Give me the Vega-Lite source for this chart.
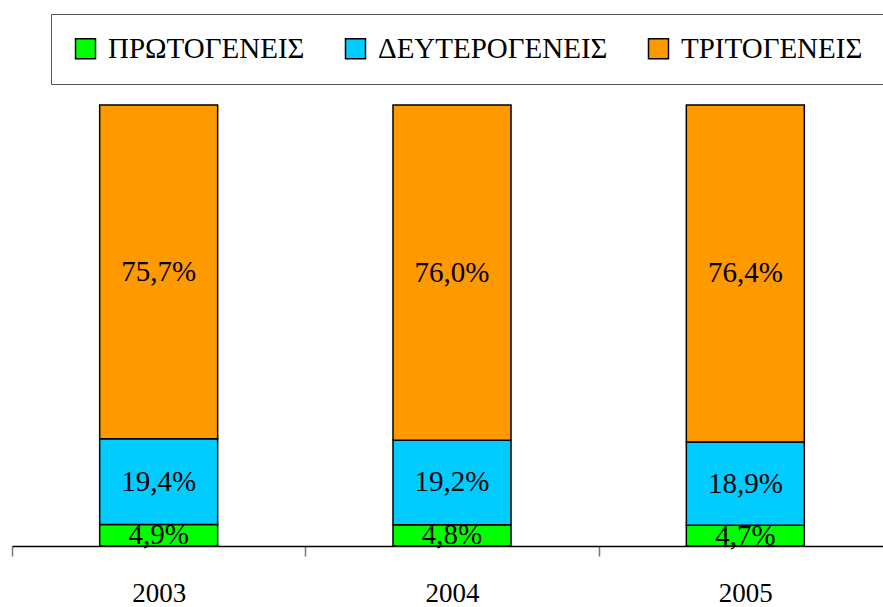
{
  "$schema": "https://vega.github.io/schema/vega-lite/v6.json",
  "autosize": {"type": "none"},
  "width": 871,
  "height": 441,
  "padding": {"left": 12, "top": 105, "right": 0, "bottom": 61},
  "background": "white",
  "config": {
    "view": {"stroke": null},
    "locale": {"number": {"decimal": ",", "thousands": ".", "grouping": [3], "currency": ["", " €"]}},
    "font": "Liberation Serif"
  },
  "data": {
    "values": [
      {"year": "2003", "sector": "ΠΡΩΤΟΓΕΝΕΙΣ", "k": 1, "share": 0.049},
      {"year": "2003", "sector": "ΔΕΥΤΕΡΟΓΕΝΕΙΣ", "k": 2, "share": 0.194},
      {"year": "2003", "sector": "ΤΡΙΤΟΓΕΝΕΙΣ", "k": 3, "share": 0.757},
      {"year": "2004", "sector": "ΠΡΩΤΟΓΕΝΕΙΣ", "k": 1, "share": 0.048},
      {"year": "2004", "sector": "ΔΕΥΤΕΡΟΓΕΝΕΙΣ", "k": 2, "share": 0.192},
      {"year": "2004", "sector": "ΤΡΙΤΟΓΕΝΕΙΣ", "k": 3, "share": 0.760},
      {"year": "2005", "sector": "ΠΡΩΤΟΓΕΝΕΙΣ", "k": 1, "share": 0.047},
      {"year": "2005", "sector": "ΔΕΥΤΕΡΟΓΕΝΕΙΣ", "k": 2, "share": 0.189},
      {"year": "2005", "sector": "ΤΡΙΤΟΓΕΝΕΙΣ", "k": 3, "share": 0.764}
    ]
  },
  "encoding": {
    "x": {
      "field": "year", "type": "nominal",
      "scale": {"paddingInner": 0, "paddingOuter": 0, "range": [0, 880]},
      "axis": {
        "title": null, "labelAngle": 0, "labelFont": "Liberation Serif", "labelFontSize": 27,
        "labelColor": "black", "domainColor": "black", "domainWidth": 1.5,
        "tickColor": "#777", "tickWidth": 1.5, "tickSize": 10, "tickBand": "extent",
        "labelPadding": 24
      }
    }
  },
  "layer": [
    {
      "mark": {"type": "bar", "size": 118, "stroke": "black", "strokeWidth": 1.5},
      "encoding": {
        "y": {"field": "share", "type": "quantitative", "stack": "zero", "scale": {"domain": [0, 1]}, "axis": null},
        "order": {"field": "k"},
        "color": {
          "field": "sector", "type": "nominal",
          "scale": {"domain": ["ΠΡΩΤΟΓΕΝΕΙΣ", "ΔΕΥΤΕΡΟΓΕΝΕΙΣ", "ΤΡΙΤΟΓΕΝΕΙΣ"], "range": ["#00FF00", "#00CCFF", "#FF9900"]},
          "legend": {
            "title": null, "orient": "none", "direction": "horizontal", "columns": 3,
            "legendX": 39, "legendY": -91,
            "labelFont": "Liberation Serif", "labelFontSize": 29, "labelColor": "black", "labelLimit": 400,
            "symbolType": "square", "symbolSize": 400, "symbolStrokeColor": "black", "symbolStrokeWidth": 1.5, "symbolOpacity": 1,
            "labelOffset": 8, "columnPadding": 36,
            "padding": 20, "strokeColor": "#555", "fillColor": "white"
          }
        }
      }
    },
    {
      "mark": {"type": "text", "font": "Liberation Serif", "fontSize": 29, "color": "black", "baseline": "middle"},
      "encoding": {
        "y": {"field": "share", "type": "quantitative", "stack": "zero", "bandPosition": 0.5},
        "order": {"field": "k"},
        "detail": {"field": "sector"},
        "text": {"field": "share", "type": "quantitative", "format": ".1%"}
      }
    }
  ]
}
